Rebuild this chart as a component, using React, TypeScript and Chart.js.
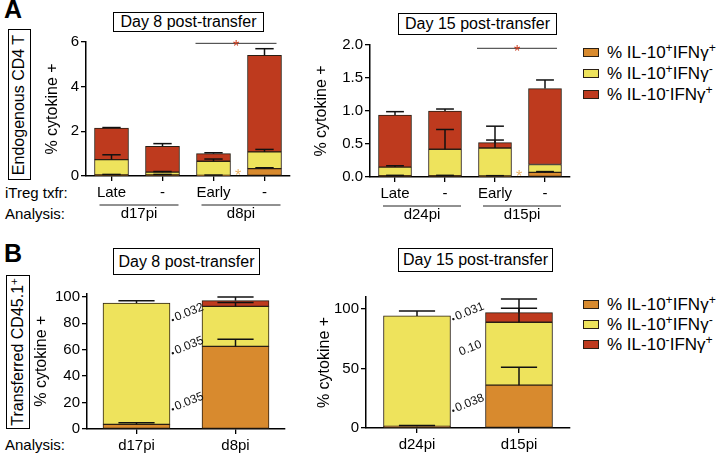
import React, { useEffect, useRef } from "react";
import { Chart, registerables } from "chart.js";
Chart.register(...registerables);

const FONT = "'Liberation Sans', Arial, Helvetica, sans-serif";
const ORANGE = "#D88A2E";
const YELLOW = "#EEE35C";
const RED = "#BE3A1E";
const EDGE = "#2a1f14";
const STAR_RED = "#C8391B";
const STAR_ORANGE = "#E9B467";

const seriesNames = ["% IL-10+IFNγ+", "% IL-10+IFNγ-", "% IL-10-IFNγ+"];
const seriesSup1 = ["+", "+", "-"];
const seriesSup2 = ["+", "-", "+"];

// Panel A — Endogenous CD4 T, Day 8
const aTxfr8 = ["Late", "-", "Early", "-"];
const aGroups8 = ["d17pi", "d8pi"];
const aOrange8 = [0.05, 0.05, 0.03, 0.33];
const aYellow8 = [0.68, 0.12, 0.63, 0.75];
const aRed8 = [1.42, 1.16, 0.34, 4.32];
const aOrangeErr8 = [0.02, 0.02, 0.01, 0.04];
const aYellowErr8 = [0.22, 0.03, 0.1, 0.11];
const aRedErr8 = [0.02, 0.12, 0.04, 0.3];
const aTicks8 = [0, 2, 4, 6];

// Panel A — Day 15
const aTxfr15 = ["Late", "-", "Early", "-"];
const aGroups15 = ["d24pi", "d15pi"];
const aOrange15 = [0.02, 0.02, 0.015, 0.07];
const aYellow15 = [0.13, 0.4, 0.425, 0.12];
const aRed15 = [0.79, 0.58, 0.08, 1.15];
const aOrangeErr15 = [0.005, 0.005, 0.005, 0.012];
const aYellowErr15 = [0.02, 0.3, 0.12, 0];
const aRedErr15 = [0.05, 0.03, 0.25, 0.13];
const aTicks15 = [0, 0.5, 1.0, 1.5, 2.0];

// Panel B — Transferred CD45.1+, Day 8
const bCats8 = ["d17pi", "d8pi"];
const bOrange8 = [3.5, 62.5];
const bYellow8 = [91.7, 30.2];
const bRed8 = [0, 4.3];
const bOrangeErr8 = [1.3, 5.4];
const bYellowErr8 = [1.8, 3.0];
const bRedErr8 = [0, 2.7];
const bPvals8 = ["0.032", "0.035", "0.035"];
const bTicks8 = [0, 20, 40, 60, 80, 100];

// Panel B — Day 15
const bCats15 = ["d24pi", "d15pi"];
const bOrange15 = [1.4, 36];
const bYellow15 = [92.7, 52.8];
const bRed15 = [0, 8.1];
const bOrangeErr15 = [0.6, 15];
const bYellowErr15 = [4.2, 11.7];
const bRedErr15 = [0, 11.5];
const bPvals15 = ["0.031", "0.10", "0.038"];
const bTicks15 = [0, 50, 100];

type Extras = {
  errs: number[][];
  groups?: { label: string; from: number; to: number }[];
  sig?: { from: number; to: number; value: number };
  star?: boolean;
  pvals?: { text: string; value: number; dot: boolean; dx: number }[];
};

type Spec = {
  labels: string[];
  series: number[][];
  yMax: number;
  yTicks: number[];
  fmt: (v: number) => string;
  barThickness: number;
  left: number; top: number; L: number; T: number; R: number; B: number;
  xH: number; padRight: number;
  extras: Extras;
};

function line(ctx: CanvasRenderingContext2D, x1: number, y1: number, x2: number, y2: number) {
  ctx.beginPath();
  ctx.moveTo(x1, y1);
  ctx.lineTo(x2, y2);
  ctx.stroke();
}

function extrasPlugin(ex: Extras) {
  return {
    id: "extras",
    afterDatasetsDraw(chart: any) {
      const ctx: CanvasRenderingContext2D = chart.ctx;
      const yS = chart.scales.y;
      const xS = chart.scales.x;
      const area = chart.chartArea;
      ctx.save();
      // error bars
      ctx.strokeStyle = "#111";
      ctx.lineWidth = 1.5;
      chart.data.datasets.forEach((ds: any, i: number) => {
        const meta = chart.getDatasetMeta(i);
        meta.data.forEach((el: any, j: number) => {
          const err = ex.errs[i][j];
          if (!err) return;
          let top = 0;
          for (let k = 0; k <= i; k++) top += chart.data.datasets[k].data[j];
          const y0 = yS.getPixelForValue(top);
          const y1 = yS.getPixelForValue(top + err);
          const half = el.width * 0.27;
          line(ctx, el.x, y0, el.x, y1);
          line(ctx, el.x - half, y1, el.x + half, y1);
        });
      });
      // group underlines + labels
      if (ex.groups) {
        ctx.lineWidth = 1;
        ctx.strokeStyle = "#222";
        ctx.fillStyle = "#000";
        ctx.font = `15px ${FONT}`;
        ctx.textAlign = "center";
        ctx.textBaseline = "alphabetic";
        ex.groups.forEach((g) => {
          const x1 = xS.getPixelForValue(g.from) - 12;
          const x2 = xS.getPixelForValue(g.to) + 16;
          const y = area.bottom + 29;
          line(ctx, x1, y, x2, y);
          ctx.fillText(g.label, (x1 + x2) / 2, y + 13);
        });
      }
      // significance line
      if (ex.sig) {
        const x1 = xS.getPixelForValue(ex.sig.from) - 18;
        const x2 = xS.getPixelForValue(ex.sig.to) + 12;
        const y = yS.getPixelForValue(ex.sig.value);
        ctx.lineWidth = 1;
        ctx.strokeStyle = "#333";
        line(ctx, x1, y, x2, y);
        ctx.fillStyle = STAR_RED;
        ctx.font = `16px ${FONT}`;
        ctx.textAlign = "center";
        ctx.textBaseline = "alphabetic";
        ctx.fillText("*", (x1 + x2) / 2, y + 9);
      }
      if (ex.star && ex.sig) {
        const xm = (xS.getPixelForValue(ex.sig.from) + xS.getPixelForValue(ex.sig.to)) / 2 - 1;
        ctx.fillStyle = STAR_ORANGE;
        ctx.font = `16px ${FONT}`;
        ctx.textAlign = "center";
        ctx.fillText("*", xm, area.bottom + 5);
      }
      // p-values
      if (ex.pvals) {
        const meta = chart.getDatasetMeta(0);
        const el = meta.data[0];
        const x0 = el.x + el.width / 2 + 2.5;
        ctx.fillStyle = "#111";
        ctx.font = `12px ${FONT}`;
        ctx.textAlign = "left";
        ctx.textBaseline = "middle";
        ex.pvals.forEach((p) => {
          const y = yS.getPixelForValue(p.value);
          ctx.save();
          ctx.translate(x0, y);
          ctx.rotate((-22 * Math.PI) / 180);
          if (p.dot) {
            ctx.beginPath();
            ctx.arc(0, 1, 1.2, 0, Math.PI * 2);
            ctx.fill();
          }
          ctx.fillText(p.text, p.dx, 0);
          ctx.restore();
        });
      }
      ctx.restore();
    },
  };
}

function buildConfig(s: Spec): any {
  const colors = [ORANGE, YELLOW, RED];
  const yW = s.L - s.left;
  const padTop = s.T - s.top;
  const axisGrid = {
    display: true,
    drawOnChartArea: false,
    drawTicks: true,
    tickLength: 5,
    color: "#000",
    lineWidth: 1.3,
  };
  return {
    type: "bar",
    data: {
      labels: s.labels,
      datasets: s.series.map((d, i) => ({
        label: seriesNames[i],
        data: d,
        backgroundColor: colors[i],
        borderColor: EDGE,
        borderWidth: 1,
        borderSkipped: false,
        barThickness: s.barThickness,
        stack: "s",
      })),
    },
    options: {
      animation: false,
      responsive: false,
      devicePixelRatio: 1,
      layout: { padding: { left: 0, top: padTop, right: s.padRight, bottom: 0 } },
      plugins: {
        legend: { display: false },
        tooltip: { enabled: false },
        title: { display: false },
      },
      scales: {
        x: {
          stacked: true,
          offset: true,
          grid: { ...axisGrid, offset: false },
          border: { display: true, color: "#000", width: 1.5 },
          ticks: {
            font: { family: FONT, size: 15 },
            color: "#000",
            padding: 3,
            maxRotation: 0,
            autoSkip: false,
          },
          afterFit: (sc: any) => {
            sc.height = s.xH;
          },
        },
        y: {
          stacked: true,
          min: 0,
          max: s.yMax,
          afterBuildTicks: (sc: any) => {
            sc.ticks = s.yTicks.map((v) => ({ value: v }));
          },
          grid: axisGrid,
          border: { display: true, color: "#000", width: 1.5 },
          ticks: {
            callback: (v: any) => s.fmt(Number(v)),
            font: { family: FONT, size: 15 },
            color: "#000",
            padding: 2,
          },
          title: {
            display: true,
            text: "% cytokine +",
            font: { family: FONT, size: 16 },
            color: "#000",
            padding: 0,
          },
          afterFit: (sc: any) => {
            sc.width = yW;
          },
        },
      },
    },
    plugins: [extrasPlugin(s.extras)],
  };
}

function ChartPanel({ spec }: { spec: Spec }) {
  const ref = useRef<HTMLCanvasElement>(null);
  const w = Math.round(spec.R - spec.left + spec.padRight);
  const h = Math.round(spec.B - spec.top + spec.xH);
  useEffect(() => {
    const c = new Chart(ref.current as HTMLCanvasElement, buildConfig(spec));
    return () => c.destroy();
  }, []);
  return (
    <canvas
      ref={ref}
      width={w}
      height={h}
      style={{ position: "absolute", left: spec.left, top: spec.top, width: w, height: h }}
    />
  );
}

const specA8: Spec = {
  labels: aTxfr8,
  series: [aOrange8, aYellow8, aRed8],
  yMax: 6,
  yTicks: aTicks8,
  fmt: (v) => String(v),
  barThickness: 34,
  left: 43, top: 28, L: 86, T: 42, R: 290, B: 176, xH: 50, padRight: 6,
  extras: {
    errs: [aOrangeErr8, aYellowErr8, aRedErr8],
    groups: [
      { label: aGroups8[0], from: 0, to: 1 },
      { label: aGroups8[1], from: 2, to: 3 },
    ],
    sig: { from: 2, to: 3, value: 5.94 },
    star: true,
  },
};

const specA15: Spec = {
  labels: aTxfr15,
  series: [aOrange15, aYellow15, aRed15],
  yMax: 2,
  yTicks: aTicks15,
  fmt: (v) => v.toFixed(1),
  barThickness: 33,
  left: 312, top: 28, L: 370, T: 45, R: 570, B: 177, xH: 50, padRight: 6,
  extras: {
    errs: [aOrangeErr15, aYellowErr15, aRedErr15],
    groups: [
      { label: aGroups15[0], from: 0, to: 1 },
      { label: aGroups15[1], from: 2, to: 3 },
    ],
    sig: { from: 2, to: 3, value: 1.95 },
    star: true,
  },
};

const specB8: Spec = {
  labels: bCats8,
  series: [bOrange8, bYellow8, bRed8],
  yMax: 102.5,
  yTicks: bTicks8,
  fmt: (v) => String(v),
  barThickness: 67,
  left: 32, top: 280, L: 87, T: 293.4, R: 285, B: 429, xH: 25, padRight: 6,
  extras: {
    errs: [bOrangeErr8, bYellowErr8, bRedErr8],
    pvals: [
      { text: bPvals8[0], value: 83.1, dot: true, dx: 3 },
      { text: bPvals8[1], value: 58, dot: true, dx: 3 },
      { text: bPvals8[2], value: 15.6, dot: true, dx: 3 },
    ],
  },
};

const specB15: Spec = {
  labels: bCats15,
  series: [bOrange15, bYellow15, bRed15],
  yMax: 110,
  yTicks: bTicks15,
  fmt: (v) => String(v),
  barThickness: 67,
  left: 315, top: 280, L: 366, T: 297, R: 570, B: 428.3, xH: 25, padRight: 6,
  extras: {
    errs: [bOrangeErr15, bYellowErr15, bRedErr15],
    pvals: [
      { text: bPvals15[0], value: 92.2, dot: true, dx: 3 },
      { text: bPvals15[1], value: 61, dot: false, dx: 7 },
      { text: bPvals15[2], value: 15.3, dot: true, dx: 3 },
    ],
  },
};

const supStyle: React.CSSProperties = {
  position: "relative",
  top: "-0.45em",
  fontSize: "0.72em",
  verticalAlign: "baseline",
};

function Txt(props: { x: number; base: number; size: number; bold?: boolean; children: any }) {
  return (
    <div
      style={{
        position: "absolute",
        left: props.x,
        top: props.base - 0.8465 * props.size,
        fontSize: props.size,
        lineHeight: 1,
        fontFamily: FONT,
        fontWeight: props.bold ? "bold" : "normal",
        whiteSpace: "nowrap",
        color: "#000",
      }}
    >
      {props.children}
    </div>
  );
}

function TitleBox(props: { x: number; y: number; w: number; h: number; text: string }) {
  return (
    <div
      style={{
        position: "absolute",
        left: props.x,
        top: props.y,
        width: props.w,
        height: props.h,
        boxSizing: "border-box",
        border: "1px solid #000",
        display: "flex",
        alignItems: "center",
        justifyContent: "center",
        fontFamily: FONT,
        fontSize: 16,
        whiteSpace: "nowrap",
        color: "#000",
      }}
    >
      {props.text}
    </div>
  );
}

function SideBox(props: { x: number; y: number; w: number; h: number; children: any }) {
  return (
    <div
      style={{
        position: "absolute",
        left: props.x,
        top: props.y,
        width: props.w,
        height: props.h,
        boxSizing: "border-box",
        border: "1px solid #000",
        display: "flex",
        alignItems: "center",
        justifyContent: "center",
        fontFamily: FONT,
        fontSize: 16,
        color: "#000",
      }}
    >
      <span
        style={{
          display: "inline-block",
          transform: "rotate(-90deg)",
          whiteSpace: "nowrap",
          lineHeight: 1,
          flex: "none",
        }}
      >
        {props.children}
      </span>
    </div>
  );
}

function Legend(props: { x: number; tops: number[] }) {
  const colors = [ORANGE, YELLOW, RED];
  return (
    <>
      {props.tops.map((t, i) => (
        <React.Fragment key={i}>
          <div
            style={{
              position: "absolute",
              left: props.x,
              top: t,
              width: 16,
              height: 9,
              boxSizing: "border-box",
              border: `1px solid ${EDGE}`,
              background: colors[i],
            }}
          />
          <Txt x={props.x + 24} base={t + 10} size={17}>
            % IL-10<span style={supStyle}>{seriesSup1[i]}</span>IFNγ<span style={supStyle}>{seriesSup2[i]}</span>
          </Txt>
        </React.Fragment>
      ))}
    </>
  );
}

export default function App() {
  return (
    <div
      style={{
        position: "absolute",
        left: 0,
        top: 0,
        width: 718,
        height: 455,
        overflow: "hidden",
        background: "#fff",
      }}
    >
      <Txt x={4} base={18} size={25} bold>A</Txt>
      <Txt x={4} base={262} size={25} bold>B</Txt>
      <SideBox x={8} y={29} w={23} h={151}>Endogenous CD4 T</SideBox>
      <SideBox x={6} y={275} w={24} h={154}>
        Transferred CD45.1<span style={supStyle}>+</span>
      </SideBox>
      <TitleBox x={113} y={12} w={151} h={20} text="Day 8 post-transfer" />
      <TitleBox x={398} y={13} w={159} h={22} text="Day 15 post-transfer" />
      <TitleBox x={113} y={248} w={147} h={27} text="Day 8 post-transfer" />
      <TitleBox x={398} y={248} w={155} h={24} text="Day 15 post-transfer" />
      <Txt x={5} base={198} size={15}>iTreg txfr:</Txt>
      <Txt x={5} base={219} size={15}>Analysis:</Txt>
      <Txt x={5} base={449.5} size={15}>Analysis:</Txt>
      <ChartPanel spec={specA8} />
      <ChartPanel spec={specA15} />
      <ChartPanel spec={specB8} />
      <ChartPanel spec={specB15} />
      <Legend x={583} tops={[48, 69, 90]} />
      <Legend x={583} tops={[300, 320, 340]} />
    </div>
  );
}
